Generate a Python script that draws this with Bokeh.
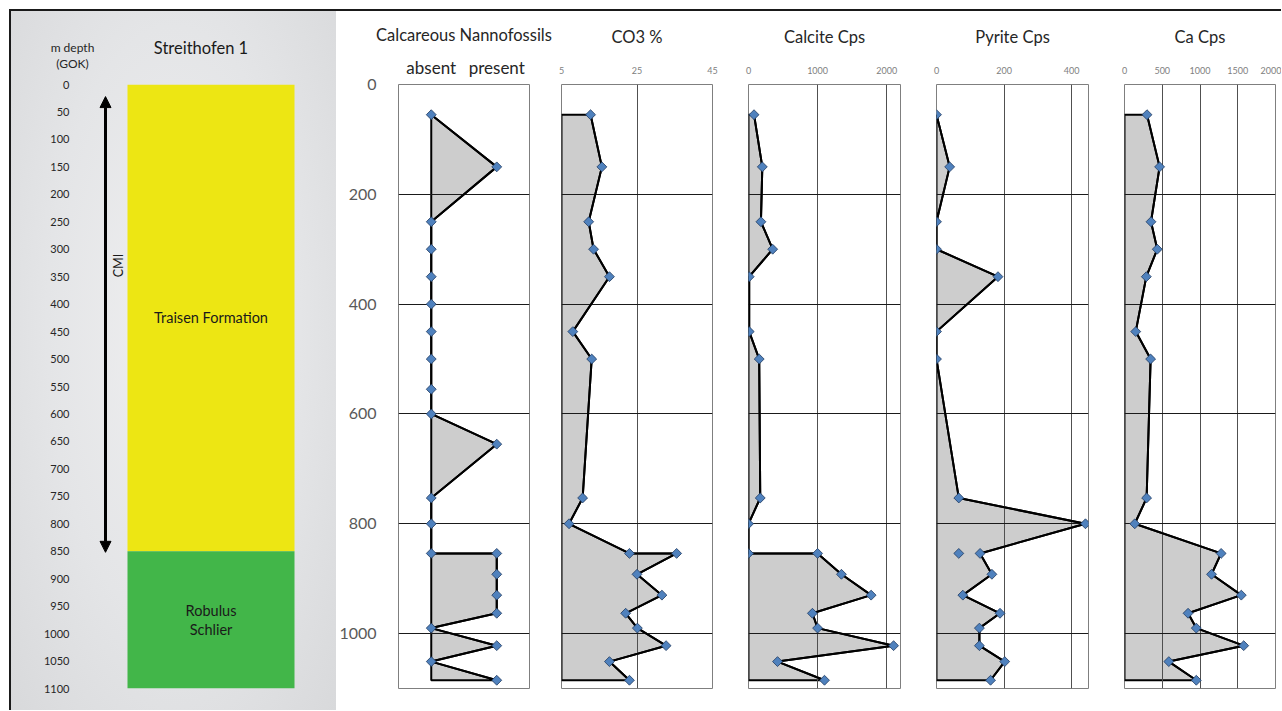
import numpy as np
from bokeh.plotting import figure
from bokeh.layouts import row
from bokeh.models import Range1d, FixedTicker, Arrow, NormalHead, Label
from bokeh.core.properties import value
from bokeh.embed import file_html
from bokeh.resources import INLINE

# ---------------- data ----------------
well_name = "Streithofen 1"
depth_title = ["m depth", "(GOK)"]
depth_ticks_left = list(range(0, 1101, 50))
depth_ticks_panel = [0, 200, 400, 600, 800, 1000]
unit_names = ["Traisen Formation", "Robulus\nSchlier"]
unit_top = [0, 850]
unit_base = [850, 1100]
unit_colors = ["#EDE613", "#42B649"]
cmi_label = "CMI"
cmi_top, cmi_base = 22, 852

nanno_depth = [55, 150, 250, 300, 350, 400, 450, 500, 555, 600, 655, 753, 800,
               854, 854, 892, 930, 963, 990, 1022, 1051, 1085]
nanno = [0, 1, 0, 0, 0, 0, 0, 0, 0, 0, 1, 0, 0, 0, 1, 1, 1, 1, 0, 1, 0, 1]
nanno_labels = {0: "absent", 1: "present"}

co3_depth = [55, 150, 250, 300, 350, 450, 500, 753, 800, 854, 854, 892, 930, 963,
             990, 1022, 1051, 1085]
co3 = [12.7, 15.7, 12.2, 13.5, 17.7, 8.0, 13.0, 10.6, 7.0, 23.0, 35.5, 25.0, 31.6,
       22.0, 25.1, 32.7, 17.7, 23.0]
co3_ticks = [5, 25, 45]

calcite_depth = [55, 150, 250, 300, 350, 450, 500, 753, 800, 854, 854, 892, 930, 963,
                 990, 1022, 1051, 1085]
calcite = [80, 200, 180, 350, 10, 10, 155, 170, 0, 0, 1000, 1345, 1775, 925, 1000,
           2100, 420, 1100]
calcite_ticks = [0, 1000, 2000]

pyrite_depth = [55, 150, 250, 300, 350, 450, 500, 753, 800, 854, 892, 930, 963, 990,
                1022, 1051, 1085]
pyrite = [0, 39, 0, 0, 182, 0, 0, 66, 441, 129, 164, 78, 188, 127, 127, 202, 160]
pyrite_extra_depth = [854]
pyrite_extra = [66]
pyrite_ticks = [0, 200, 400]

ca_depth = [55, 150, 250, 300, 350, 450, 500, 753, 800, 854, 892, 930, 963, 990,
            1022, 1051, 1085]
ca = [298, 465, 351, 434, 289, 149, 346, 293, 136, 1280, 1153, 1547, 842, 951, 1579,
      587, 951]
ca_ticks = [0, 500, 1000, 1500, 2000]

# ---------------- layout constants ----------------
FONT = "Lato"
H = 699
TOP = 73
FRAME_H = 604
BOTTOM = H - TOP - FRAME_H
DEPTH_MAX = 1100
FILL = "#CDCDCD"
MARK = "#4F81BD"
MARK_LINE = "#1F3A60"
GRID = "#1a1a1a"


def depth_panel(title, depth, vals, xr, ticks, base, width, bl, br,
                labels=None, left_axis=False, vgrid=True, big_ticks=False):
    p = figure(width=width, height=H, x_range=Range1d(*xr),
               y_range=Range1d(DEPTH_MAX, 0),
               x_axis_location="above",
               y_axis_location="left" if left_axis else None,
               output_backend="svg", toolbar_location=None,
               min_border_left=bl, min_border_right=br,
               min_border_top=TOP, min_border_bottom=BOTTOM)
    p.outline_line_color = "#7f7f7f"
    p.outline_line_width = 1
    p.background_fill_color = "white"
    p.border_fill_color = "white"

    ax = p.xaxis[0]
    ax.ticker = FixedTicker(ticks=ticks)
    if labels:
        ax.major_label_overrides = labels
    ax.axis_line_color = None
    ax.major_tick_line_color = None
    ax.minor_tick_line_color = None
    ax.major_label_text_font = FONT
    if big_ticks:
        ax.major_label_text_font_size = "17px"
        ax.major_label_text_color = "#262626"
        ax.major_label_standoff = 1
        ax.axis_label_standoff = 9
    else:
        ax.major_label_text_font_size = "9px"
        ax.major_label_text_color = "#808080"
        ax.major_label_standoff = 5
        ax.axis_label_standoff = 17
    ax.axis_label = title
    ax.axis_label_text_font = FONT
    ax.axis_label_text_font_size = "16.5px"
    ax.axis_label_text_font_style = "normal"
    ax.axis_label_text_color = "#262626"

    if left_axis:
        ya = p.yaxis[0]
        ya.ticker = FixedTicker(ticks=depth_ticks_panel)
        ya.axis_line_color = None
        ya.major_tick_line_color = None
        ya.minor_tick_line_color = None
        ya.major_label_text_font = FONT
        ya.major_label_text_font_size = "16px"
        ya.major_label_text_color = "#595959"
        ya.major_label_standoff = 16

    p.ygrid.ticker = FixedTicker(ticks=depth_ticks_panel[1:])
    p.ygrid.grid_line_color = GRID
    p.ygrid.grid_line_width = 1
    if vgrid:
        p.xgrid.ticker = FixedTicker(ticks=ticks)
        p.xgrid.grid_line_color = "#505050"
        p.xgrid.grid_line_width = 1
    else:
        p.xgrid.visible = False

    xs = [base] + list(vals) + [base]
    ys = [depth[0]] + list(depth) + [depth[-1]]
    p.patch(xs, ys, fill_color=FILL, line_color="black", line_width=2,
            level="image")
    p.line(vals, depth, line_color="black", line_width=2)
    p.scatter(vals, depth, marker="square", angle=np.pi / 4, size=7,
              fill_color=MARK, line_color=MARK_LINE, line_width=0.8)
    return p


# ---------------- left panel (lithology column) ----------------
W0 = 325
BL0 = 70
BR0 = 15
FW0 = W0 - BL0 - BR0
f0 = figure(width=W0, height=H, x_range=Range1d(0, FW0), y_range=Range1d(DEPTH_MAX, 0),
            x_axis_location=None, y_axis_location="left",
            output_backend="svg", toolbar_location=None,
            min_border_left=BL0, min_border_right=BR0,
            min_border_top=TOP, min_border_bottom=BOTTOM)
f0.grid.visible = False
f0.outline_line_color = None
f0.background_fill_alpha = 0
f0.border_fill_alpha = 0
f0.styles = {"background": "radial-gradient(ellipse at 50% 45%, #efeff0 0%, #e4e5e7 55%, #d8d9db 100%)"}

ya0 = f0.yaxis[0]
ya0.ticker = FixedTicker(ticks=depth_ticks_left)
ya0.axis_line_color = None
ya0.major_tick_line_color = None
ya0.minor_tick_line_color = None
ya0.major_label_text_font = FONT
ya0.major_label_text_font_size = "11px"
ya0.major_label_text_color = "#262626"
ya0.major_label_standoff = 6

col_left, col_right, arrow_x = 46, 213, 24
col_mid = (col_left + col_right) / 2

f0.quad(left=col_left, right=col_right, top=unit_top, bottom=unit_base,
        fill_color=unit_colors, line_color=None)
mids = [(a + b) / 2 for a, b in zip(unit_top, unit_base)]
f0.text(x=[col_mid] * len(unit_names), y=mids, text=unit_names,
        text_font=value(FONT), text_font_size="14.5px", text_color="#1a1a1a",
        text_align="center", text_baseline="middle", text_line_height=1.15)
f0.text(x=[arrow_x + 13], y=[(cmi_top + cmi_base) / 2.65], text=[cmi_label],
        angle=np.pi / 2, text_font=value(FONT), text_font_size="12.5px",
        text_color="#1a1a1a", text_align="center", text_baseline="middle")
f0.add_layout(Arrow(x_start=arrow_x, y_start=cmi_base, x_end=arrow_x, y_end=cmi_top,
                    line_width=3, line_color="black",
                    start=NormalHead(size=11, fill_color="black", line_color="black"),
                    end=NormalHead(size=11, fill_color="black", line_color="black")))

# texts above the column (depth-axis caption and well name), placed in the
# top side panel so that they are not clipped to the frame
for txt, yy in zip(depth_title, [-67, -38]):
    f0.add_layout(Label(x=-9, y=yy, text=txt, text_font=FONT, text_font_size="12px",
                        text_color="#262626", text_align="center",
                        text_baseline="middle"), "above")
f0.add_layout(Label(x=col_mid - 10, y=-67, text=well_name, text_font=FONT,
                    text_font_size="16.5px", text_color="#1a1a1a",
                    text_align="center", text_baseline="middle"), "above")

# ---------------- data panels ----------------
p1 = depth_panel("Calcareous Nannofossils", nanno_depth, nanno, (-0.5, 1.5), [0, 1], 0,
                 222, 59, 29, labels=nanno_labels, left_axis=True, vgrid=False,
                 big_ticks=True)
p2 = depth_panel("CO3 %", co3_depth, co3, (5, 45), co3_ticks, 5, 172, 3, 18)
p3 = depth_panel("Calcite Cps", calcite_depth, calcite, (0, 2200), calcite_ticks, 0,
                 188, 18, 18)
p4 = depth_panel("Pyrite Cps", pyrite_depth, pyrite, (0, 450), pyrite_ticks, 0,
                 188, 18, 18)
p4.scatter(pyrite_extra, pyrite_extra_depth, marker="square", angle=np.pi / 4, size=7,
           fill_color=MARK, line_color=MARK_LINE, line_width=0.8)
p5 = depth_panel("Ca Cps", ca_depth, ca, (0, 2000), ca_ticks, 0, 175, 18, 6)

layout = row(f0, p1, p2, p3, p4, p5,
             styles={"margin-top": "9px", "margin-left": "9px",
                     "border-top": "2px solid #1a1a1a",
                     "border-left": "2px solid #1a1a1a"})

open("out.html", "w").write(file_html(layout, INLINE))
